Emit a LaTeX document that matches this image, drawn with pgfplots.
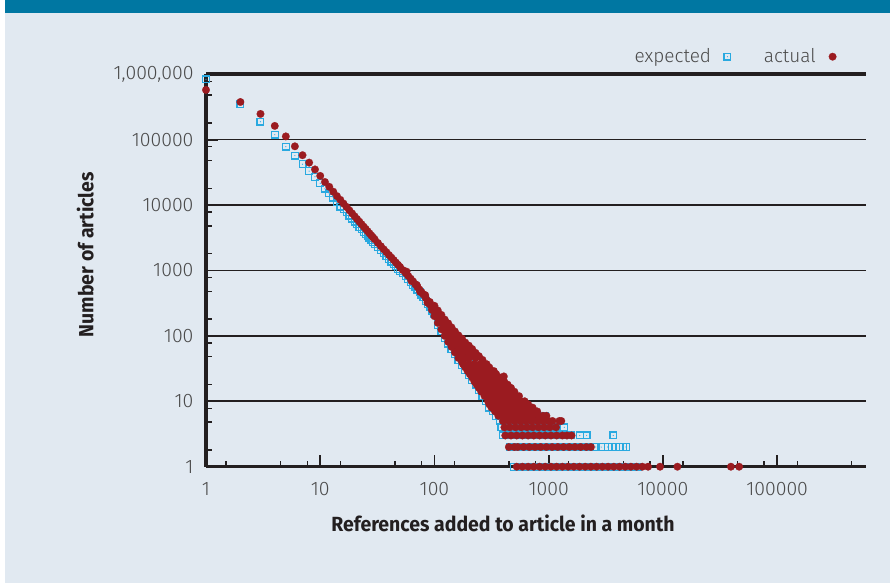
\documentclass[border=0pt]{standalone}
\usepackage{fontspec}
\setmainfont{Fira Sans}[UprightFont={* Light}, BoldFont={* Bold}]
\newfontfamily\labfont{Fira Sans}[UprightFont={* Bold}, FakeStretch=0.95]
\usepackage{pgfplots}
\pgfplotsset{compat=1.18}

\definecolor{bg}{HTML}{E1E9F1}
\definecolor{band}{HTML}{0077A2}
\definecolor{expblue}{HTML}{29A9E0}
\definecolor{actred}{HTML}{9B1B20}
\definecolor{axisblack}{HTML}{231F20}
\definecolor{ticktext}{HTML}{4A4A4A}

% open square with a small dot in the middle
\pgfdeclareplotmark{sqdot}{%
  \pgfpathrectangle{\pgfpoint{-\pgfplotmarksize}{-\pgfplotmarksize}}%
    {\pgfpoint{2\pgfplotmarksize}{2\pgfplotmarksize}}%
  \pgfusepathqstroke
  \pgfpathcircle{\pgfpointorigin}{0.6pt}%
  \pgfusepathqfill}

\begin{document}
\begin{tikzpicture}
\useasboundingbox (0,0) rectangle (890pt,583pt);
\fill[white] (0,0) rectangle (890pt,583pt);
\fill[bg] (5pt,0) rectangle (890pt,583pt);
\fill[band] (5pt,570pt) rectangle (890pt,583pt);
\begin{axis}[
  at={(206pt,116.3pt)}, anchor=south west,
  scale only axis, width=660pt, height=392.5pt,
  xmode=log, ymode=log,
  xmin=1, xmax=600000, ymin=1, ymax=1000000,
  clip=false,
  axis x line*=bottom, axis y line*=left,
  axis line style={-, line width=3.5pt, color=axisblack},
  tick align=inside,
  major tick length=12pt, minor tick length=6pt,
  major tick style={line width=1.8pt, color=axisblack},
  minor tick style={line width=1.4pt, color=axisblack},
  xtick={1,10,100,1000,10000,100000},
  xticklabels={1,10,100,1000,10000,100000},
  minor xtick={1.5,4.5,7.7,15,45,77,150,450,770,1500,4500,7700,15000,45000,77000,150000,450000},
  ytick={1,10,100,1000,10000,100000},
  yticklabels={1,10,100,1000,10000,100000},
  minor ytick={1.8,4.8,7.8,18,48,78,180,480,780,1800,4800,7800,18000,48000,78000,180000,480000,780000},
  extra y ticks={1000000},
  extra y tick labels={1{,}000{,}000},
  extra y tick style={major grid style={line width=3.5pt, color=axisblack}},
  ymajorgrids=true,
  major grid style={line width=1.6pt, color=axisblack},
  ticklabel style={font=\fontsize{19.5}{22}\selectfont, text=ticktext},
  xticklabel style={yshift=-12pt},
  yticklabel style={xshift=-9pt},
  /pgf/number format/assume math mode=true,
  xlabel={References added to article in a month},
  ylabel={Number of articles},
  xlabel style={at={(axis description cs:0.45,-0.145)}, anchor=center,
    font=\labfont\fontsize{20.5}{23}\selectfont, text=axisblack},
  ylabel style={at={(axis description cs:-0.183,0.54)}, anchor=center,
    font=\labfont\fontsize{20.5}{23}\selectfont, text=axisblack},
  legend plot pos=right,
  legend columns=2,
  legend style={at={(rel axis cs:0.960,1.0446)}, anchor=east,
    draw=none, fill=none, font=\fontsize{19}{22}\selectfont, text=ticktext,
    /tikz/every odd column/.append style={column sep=11pt},
    /tikz/every even column/.append style={column sep=31pt}},
]
% expected
\addplot[only marks, color=expblue, mark=sqdot, mark size=3.4pt,
  mark options={draw=expblue, fill=expblue, line width=1.2pt}]
coordinates {
(1,835000)(2,352000)(3,188000)(4,119000)(5,78000)(6,57000)(7,42000)(8,33000)
(9,27000)(10,21500)(11,17800)(12,15100)(13,13000)(14,11000)(15,9450)
(16,8750)(17,7780)(18,6900)(19,6190)(20,5600)(21,5080)(22,4620)(23,4240)
(24,3890)(25,3580)(26,3390)(27,3140)(28,2920)(29,2720)(30,2550)
(32,2290)(34,2040)(36,1830)(38,1650)(40,1500)(42,1370)(44,1250)(46,1150)
(48,1060)(50,982)(53,900)(56,811)(59,733)(62,667)(65,605)(68,561)(71,509)
(74,466)(77,427)(80,391)(84,344)(88,305)(92,272)(96,243)(100,219)
(107,148)(107,195)(115,117)(115,162)(123,93)(123,132)(132,76)(132,112)
(141,63)(141,95)(151,52)(151,81)(162,43)(162,68)(174,36)(174,59)
(186,30)(186,48)(200,25)(200,40)(214,21)(214,35)(229,18)(229,30)
(245,15)(245,26)(263,12)(263,22)(282,10)(282,18)(302,8)(302,16)
(324,7)(324,13)(347,6)(347,11)(372,5)(372,9)
(370,6)(440,6)(520,6)(610,6)(720,6)(840,6)(935,6)
(395,5)(470,5)(550,5)(640,5)(750,5)(880,5)
(385,4)(440,4)(500,4)(570,4)(650,4)(740,4)(850,4)(1000,4)(1160,4)(1370,4)
(400,3)(460,3)(525,3)(590,3)(660,3)(740,3)(830,3)(930,3)(1050,3)(1180,3)
(1320,3)(1450,3)(1580,3)(1870,3)(2150,3)(3680,3)
(455,2)(510,2)(570,2)(640,2)(720,2)(810,2)(910,2)(1020,2)(1150,2)(1290,2)
(1450,2)(1620,2)(1820,2)(2050,2)(2300,2)(2580,2)(2880,2)(3290,2)(3590,2)
(3890,2)(4170,2)(4450,2)(4750,2)
(500,1)(560,1)(630,1)(710,1)(800,1)(890,1)(1000,1)(1120,1)(1260,1)(1410,1)
(1580,1)(1780,1)(2000,1)(2240,1)(2510,1)(2820,1)(3160,1)(3550,1)(3980,1)
(4470,1)(5010,1)(5620,1)(6000,1)
};
\addlegendentry{expected}
% actual
\addplot[only marks, color=actred, mark=*, mark size=3.8pt,
  mark options={draw=actred, fill=actred, line width=0.2pt}]
coordinates {
(1,575000)(2,376000)(3,247000)(4,162000)(5,112000)(6,79000)(7,57800)(8,44500)
(9,35000)(10,27900)(11,22500)(12,19000)(13,16000)(14,13700)(15,12000)
(16,10520)(17,9350)(18,8300)(19,7450)(20,6730)(21,6100)(22,5560)(23,5090)
(24,4670)(25,4310)(26,3980)(27,3690)(28,3430)(29,3200)(30,2990)
(32,2630)(34,2340)(36,2100)(38,1900)(40,1720)(42,1570)(44,1440)(46,1320)
(48,1220)(50,1130)(53,1010)(56,910)(59,822)(62,748)(65,679)(68,615)(71,559)
(74,510)(77,468)(80,428)(84,378)(88,334)(92,298)(96,267)(100,240)
(57,960)(63,690)(70,600)(75,470)(83,420)(87,320)(91,330)(95,250)(99,275)
(100,200)(100,288)
(107,158)(107,195)(107,245)
(115,126)(115,162)(115,209)
(123,100)(123,120)(123,145)(123,178)
(132,81)(132,100)(132,126)(132,155)
(141,68)(141,85)(141,107)(141,135)
(151,56)(151,72)(151,91)(151,117)
(162,46)(162,60)(162,79)(162,102)
(174,40)(174,52)(174,69)(174,91)
(186,46)(186,60)(186,79)
(200,45)(200,56)(200,71)
(214,50)(214,63)(229,46)(229,55)(245,49)(263,43)
(178,37)(200,37)(224,37)(251,37)(286,37)
(186,33)(209,33)(234,33)(263,33)(302,33)
(195,29)(219,29)(245,29)(275,29)(309,29)(331,29)
(204,26)(229,26)(257,26)(288,26)(316,26)(347,26)
(214,23)(240,23)(269,23)(302,23)(339,23)(376,23)
(224,20)(251,20)(282,20)(316,20)(355,20)(408,20)
(234,18)(263,18)(295,18)(331,18)(372,18)(437,18)
(245,16)(275,16)(309,16)(347,16)(389,16)(427,16)(468,16)
(257,14)(288,14)(324,14)(363,14)(407,14)(457,14)(501,14)
(275,12)(309,12)(347,12)(389,12)(437,12)(490,12)(550,12)
(295,10)(331,10)(372,10)(417,10)(468,10)(525,10)(575,10)(617,10)
(302,9)(339,9)(380,9)(427,9)(479,9)(537,9)(603,9)(661,9)
(316,8)(355,8)(398,8)(447,8)(501,8)(562,8)(631,8)(724,8)
(339,7)(380,7)(427,7)(479,7)(537,7)(603,7)(676,7)(741,7)(794,7)
(363,6)(407,6)(457,6)(513,6)(575,6)(646,6)(724,6)(813,6)(891,6)(955,6)
(398,5)(447,5)(501,5)(562,5)(631,5)(708,5)(794,5)(891,5)(1000,5)(1080,5)(1240,5)(1290,5)
(410,4)(457,4)(513,4)(575,4)(646,4)(724,4)(813,4)(912,4)(1023,4)(1160,4)
(417,3)(468,3)(525,3)(589,3)(661,3)(741,3)(832,3)(933,3)(1047,3)(1175,3)
(1318,3)(1445,3)(1585,3)
(448,2)(501,2)(537,2)(603,2)(676,2)(759,2)(851,2)(955,2)(1072,2)(1202,2)
(1349,2)(1514,2)(1698,2)(1905,2)(2138,2)(2344,2)
(525,1)(589,1)(661,1)(741,1)(832,1)(933,1)(1047,1)(1175,1)(1318,1)(1479,1)
(1660,1)(1862,1)(2089,1)(2344,1)(2630,1)(2951,1)(3311,1)(3715,1)(4169,1)
(4677,1)(5248,1)(5888,1)(6607,1)(7413,1)(9440,1)(13400,1)(39400,1)(46500,1)
(405,24)
};
\addlegendentry{actual}
\end{axis}
\end{tikzpicture}
\end{document}
